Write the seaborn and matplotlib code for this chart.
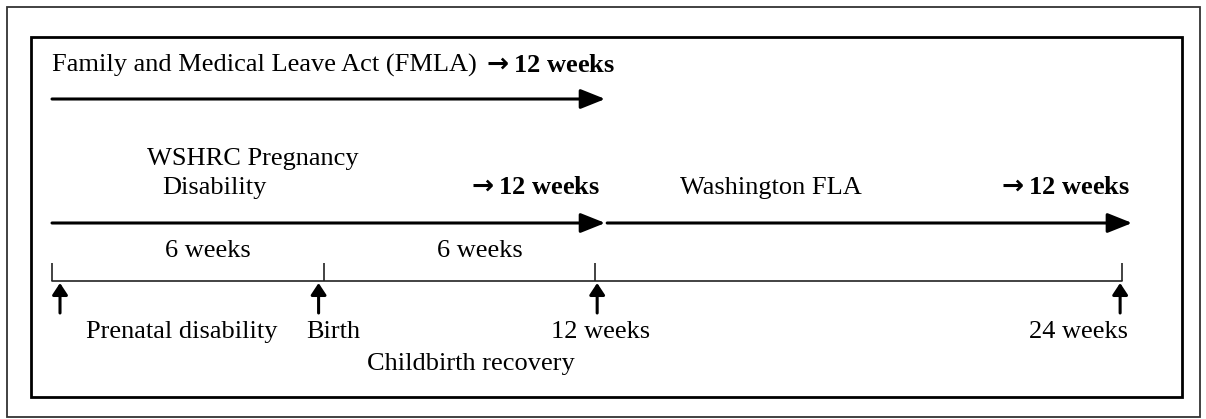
import numpy as np
import pandas as pd
import matplotlib
matplotlib.use('Agg')
import matplotlib.pyplot as plt
from matplotlib.patches import Rectangle
from matplotlib.transforms import offset_copy
import seaborn as sns

# timeline milestones, in weeks
milestone_weeks = [0, 6, 12, 24]
milestone_labels = ['Prenatal disability', 'Birth', '12 weeks', '24 weeks']
segment_start = [0, 6]
segment_end = [6, 12]
segment_labels = ['6 weeks', '6 weeks']
phase_labels = ['Prenatal disability', 'Childbirth recovery']

# leave programs
leave_names = ['Family and Medical Leave Act (FMLA)', 'WSHRC Pregnancy', 'Washington FLA']
leave_start = [0, 0, 12]
leave_end = [12, 12, 24]
leave_length = ['12 weeks', '12 weeks', '12 weeks']

sns.set_theme(style='white')
plt.rcParams['font.family'] = ['Liberation Serif', 'DejaVu Serif']
plt.rcParams['mathtext.fontset'] = 'dejavusans'
plt.rcParams['text.color'] = 'black'
FS = 19
ARROW = r'$\mathbf{\rightarrow}$'

fig = plt.figure(figsize=(12.06, 4.19), dpi=100)
ax = fig.add_axes([0, 0, 1, 1])

# second half of the timeline is drawn a little tighter than the first
r = 43.9 / 45.25
def fwd(w):
    w = np.asarray(w, dtype=float)
    return np.where(w <= 12, w, 12 + (w - 12) * r)
def inv(u):
    u = np.asarray(u, dtype=float)
    return np.where(u <= 12, u, 12 + (u - 12) / r)
ax.set_xscale('function', functions=(fwd, inv))
ax.set_xlim(-1.149, 25.91)
ax.set_ylim(419, 0)
ax.axis('off')

# frames
ax.add_patch(Rectangle((7/1206, 1-417/419), 1193/1206, 410/419, transform=ax.transAxes,
                       fill=False, lw=1.3, ec='#333333'))
ax.add_patch(Rectangle((31/1206, 1-397/419), 1151/1206, 360/419, transform=ax.transAxes,
                       fill=False, lw=2.0, ec='black'))

big = dict(arrowstyle='-|>,head_length=0.6,head_width=0.24', lw=2.2, color='black',
           mutation_scale=25, shrinkA=0, shrinkB=0)

def shifted(dx):
    return offset_copy(ax.transData, fig=fig, x=dx, y=0, units='dots')

def span_arrow(s, e, y, ds=0):
    ax.annotate('', xy=(e, y), xycoords=shifted(10), xytext=(s, y), textcoords=shifted(ds),
                arrowprops=big)

def length_label(xy, text, dx, ha):
    ax.annotate(ARROW + text, xy=xy, xytext=(dx, 0), textcoords='offset pixels',
                fontsize=FS, fontweight='bold', ha=ha, va='baseline')

# FMLA row
t0 = ax.text(leave_start[0], 72, leave_names[0], fontsize=FS, ha='left', va='baseline')
ax.annotate(ARROW + leave_length[0], xy=(1, 0), xycoords=t0, xytext=(4, 0),
            textcoords='offset pixels', fontsize=FS, fontweight='bold', ha='left', va='bottom')
span_arrow(leave_start[0], leave_end[0], 99)

# WSHRC row
ax.annotate(leave_names[1], xy=(leave_start[1], 165), xytext=(95, 0), textcoords='offset pixels',
            fontsize=FS, ha='left', va='baseline')
ax.annotate('Disability', xy=(leave_start[1], 194), xytext=(110, 0), textcoords='offset pixels',
            fontsize=FS, ha='left', va='baseline')
length_label((leave_end[1], 194), leave_length[1], 5, 'right')
span_arrow(leave_start[1], leave_end[1], 223)

# Washington FLA row
ax.annotate(leave_names[2], xy=(leave_start[2], 194), xytext=(85, 0), textcoords='offset pixels',
            fontsize=FS, ha='left', va='baseline')
length_label((leave_end[2], 194), leave_length[2], 8, 'right')
span_arrow(leave_start[2], leave_end[2], 223, ds=12)

# timeline
tl = pd.DataFrame({'week': milestone_weeks, 'y': [281] * len(milestone_weeks)})
sns.lineplot(data=tl, x='week', y='y', ax=ax, color='#222222', lw=1.2, legend=False)
ax.vlines(milestone_weeks, 263, 281, color='#222222', lw=1.2)

for s, e, lab in zip(segment_start, segment_end, segment_labels):
    ax.annotate(lab, xy=((s + e) / 2, 257), xytext=(20, 0), textcoords='offset pixels',
                fontsize=FS, ha='center', va='baseline')

small = dict(arrowstyle='-|>,head_length=0.5,head_width=0.33', lw=2.2, color='black',
             mutation_scale=14, shrinkA=0, shrinkB=0)
arrow_dx = [8, -5, 2, -2]
for w, dx in zip(milestone_weeks, arrow_dx):
    tr = shifted(dx)
    ax.annotate('', xy=(w, 283), xycoords=tr, xytext=(w, 313), textcoords=tr, arrowprops=small)

# milestone labels
ax.annotate(milestone_labels[0], xy=((segment_start[0] + segment_end[0]) / 2, 338),
            xytext=(-6, 0), textcoords='offset pixels', fontsize=FS, ha='center', va='baseline')
ax.annotate(milestone_labels[1], xy=(milestone_weeks[1], 338), xytext=(-17, 0),
            textcoords='offset pixels', fontsize=FS, ha='left', va='baseline')
ax.annotate(milestone_labels[2], xy=(milestone_weeks[2], 338), xytext=(5, 0),
            textcoords='offset pixels', fontsize=FS, ha='center', va='baseline')
ax.annotate(milestone_labels[3], xy=(milestone_weeks[3], 338), xytext=(6, 0),
            textcoords='offset pixels', fontsize=FS, ha='right', va='baseline')
ax.annotate(phase_labels[1], xy=((segment_start[1] + segment_end[1]) / 2, 370),
            xytext=(11, 0), textcoords='offset pixels', fontsize=FS, ha='center', va='baseline')

fig.savefig('out.png', dpi=100, facecolor='white')
